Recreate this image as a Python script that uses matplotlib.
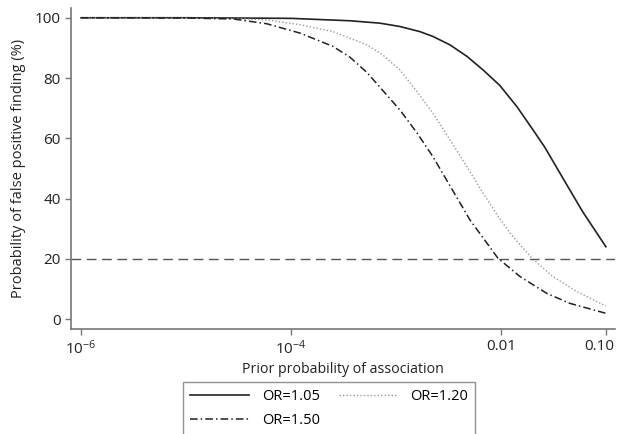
import matplotlib
matplotlib.use("Agg")
import matplotlib.pyplot as plt
import matplotlib.transforms as mtransforms
from matplotlib.ticker import FixedLocator, FixedFormatter, NullLocator

plt.rcParams['font.family'] = ['Open Sans', 'DejaVu Sans']
plt.rcParams['mathtext.default'] = 'regular'

# prior probability (x) and probability of false positive finding in % (y)
x_105 = [1e-6, 1e-5, 1e-4, 3.65e-4, 7.05e-4, 1.09e-3, 1.69e-3, 2.25e-3, 3.27e-3, 4.74e-3,
         6.75e-3, 9.78e-3, 0.0142, 0.0202, 0.0262, 0.0425, 0.0604, 0.1]
y_105 = [100, 100, 99.8, 99.0, 98.2, 97.1, 95.4, 93.8, 91.0, 87.2,
         82.7, 77.5, 70.5, 62.8, 57.0, 44.5, 35.5, 24.0]

x_120 = [1e-6, 1e-5, 2.81e-5, 5.9e-5, 1.22e-4, 2.51e-4, 5.3e-4, 7.52e-4, 1.09e-3, 1.585e-3,
         2.25e-3, 3.27e-3, 4.74e-3, 6.75e-3, 9.16e-3, 0.0122, 0.0197, 0.0313, 0.053, 0.1]
y_120 = [100, 99.9, 99.7, 99.3, 97.7, 95.4, 91.0, 87.6, 82.7, 75.5,
         68.3, 59.5, 50.6, 41.8, 34.7, 28.5, 20.2, 14.1, 9.1, 4.3]

x_150 = [1e-6, 1e-5, 2.81e-5, 5.9e-5, 1.22e-4, 2.51e-4, 3.65e-4, 5.3e-4, 7.52e-4, 1.09e-3,
         1.585e-3, 2.25e-3, 3.3e-3, 5.07e-3, 9.36e-3, 0.0152, 0.0274, 0.0454, 0.1]
y_150 = [100, 99.9, 99.6, 98.0, 94.9, 90.5, 86.9, 81.8, 75.8, 69.4,
         61.8, 53.9, 44.0, 32.9, 20.2, 14.1, 8.5, 5.2, 1.9]

threshold = 20
x_ticks = [1e-6, 1e-4, 0.01, 0.1]
x_labels = [r'$10^{-6}$', r'$10^{-4}$', '0.01', '0.10']
y_ticks = [0, 20, 40, 60, 80, 100]

fig = plt.figure(figsize=(6.18, 4.34), dpi=100)
ax = fig.add_axes([0.115, 0.242, 0.88, 0.74])

l1, = ax.plot(x_105, y_105, color='#222222', lw=1.2, label='OR=1.05')
l2, = ax.plot(x_120, y_120, color='#999999', lw=1.0, ls=(0, (1, 1.5)), label='OR=1.20')
l3, = ax.plot(x_150, y_150, color='#222222', lw=1.1, ls=(0, (5, 2, 1, 2)), label='OR=1.50')
ax.axhline(threshold, color='#555555', lw=1.0, ls=(0, (7, 4)))

ax.set_xscale('log')
ax.set_xlim(10**-6.095, 10**-0.914)
ax.set_ylim(-3.3, 103.3)
ax.xaxis.set_major_locator(FixedLocator(x_ticks))
ax.xaxis.set_major_formatter(FixedFormatter(x_labels))
ax.xaxis.set_minor_locator(NullLocator())
ax.set_yticks(y_ticks)

for s in ['top', 'right']:
    ax.spines[s].set_visible(False)
for s in ['left', 'bottom']:
    ax.spines[s].set_color('#777777')
    ax.spines[s].set_linewidth(1.2)
ax.tick_params(colors='#777777', labelcolor='#222222', length=4, width=1, labelsize=11)

ax.set_xlabel('Prior probability of association', fontsize=10.2, color='#222222', labelpad=3)
ax.set_ylabel('Probability of false positive finding (%)', fontsize=10.5, color='#222222', labelpad=6)

leg = fig.legend(handles=[l1, l3, l2], ncol=2, loc='upper left',
                 bbox_to_anchor=(0.296, 0.12), borderaxespad=0, fontsize=10.5,
                 frameon=True, fancybox=False, edgecolor='#777777', handlelength=4,
                 handletextpad=0.9, columnspacing=1.3, borderpad=0.5,
                 labelspacing=0.6)
leg.get_frame().set_linewidth(1.0)

# nudge the last x tick label so it stays inside the figure
fig.canvas.draw()
last = ax.xaxis.get_major_ticks()[-1].label1
last.set_transform(last.get_transform() +
                   mtransforms.ScaledTranslation(-5 / 72, 0, fig.dpi_scale_trans))

fig.savefig('out.png', dpi=100)
